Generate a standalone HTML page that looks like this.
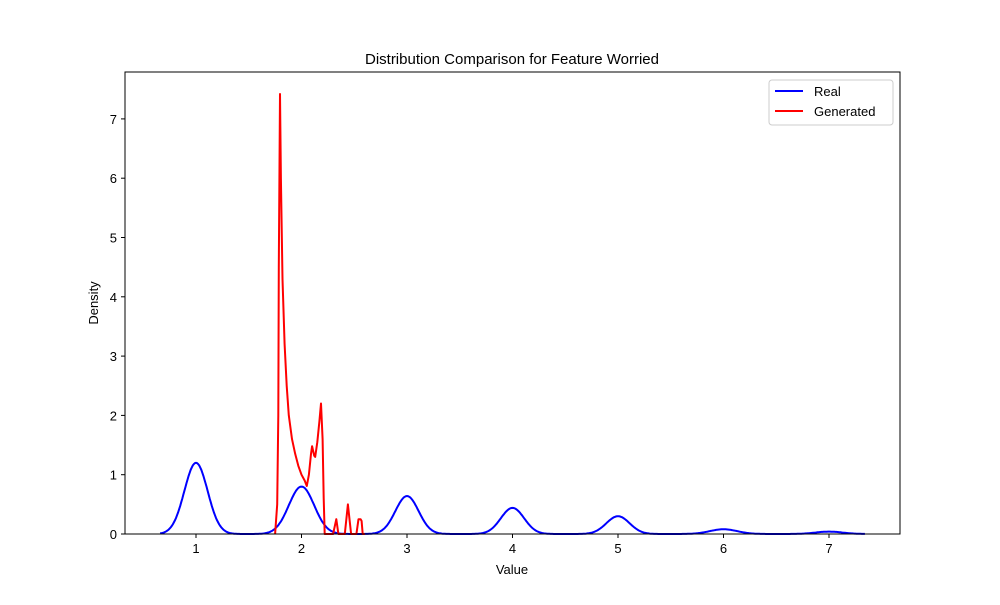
<!DOCTYPE html>
<html><head><meta charset="utf-8"><style>
body{margin:0;background:#fff;font-family:"Liberation Sans","DejaVu Sans",sans-serif;}
</style></head><body>
<svg id="chart" width="1000" height="600" xmlns="http://www.w3.org/2000/svg" font-family="Liberation Sans, DejaVu Sans, sans-serif">
<rect width="1000" height="600" fill="#fff"/>
<text x="512" y="64" text-anchor="middle" font-size="15">Distribution Comparison for Feature Worried</text>
<g id="plot"></g>
<rect x="125" y="72" width="775" height="462" fill="none" stroke="#000" stroke-width="1"/>
<text x="512" y="574" text-anchor="middle" font-size="13">Value</text>
<text transform="translate(98,303) rotate(-90)" text-anchor="middle" font-size="13">Density</text>
<g>
<rect x="769" y="80" width="124" height="45" rx="3" fill="#fff" stroke="#ccc"/>
<line x1="775" y1="91" x2="803" y2="91" stroke="#0000ff" stroke-width="2"/>
<text x="814" y="96" font-size="13">Real</text>
<line x1="775" y1="111" x2="803" y2="111" stroke="#ff0000" stroke-width="2"/>
<text x="814" y="116" font-size="13">Generated</text>
</g>
</svg>
<script>
const xTicks=[1,2,3,4,5,6,7];
const yTicks=[0,1,2,3,4,5,6,7];
const realCenters=[1,2,3,4,5,6,7];
const realHeights=[1.2,0.8,0.64,0.44,0.3,0.08,0.04];
const realWidths=[0.11,0.12,0.11,0.11,0.11,0.13,0.13];
const genX=[1.75,1.77,1.78,1.785,1.796,1.805,1.82,1.84,1.86,1.88,1.91,1.94,1.97,2.0,2.03,2.05,2.07,2.09,2.1,2.12,2.13,2.15,2.17,2.185,2.2,2.21,2.22,2.3,2.33,2.35,2.41,2.44,2.47,2.52,2.54,2.56,2.57,2.58,2.6];
const genY=[0,0.5,2.0,4.5,7.42,6.0,4.3,3.2,2.5,2.0,1.6,1.35,1.15,1.0,0.9,0.81,1.0,1.35,1.48,1.32,1.3,1.55,1.9,2.2,1.6,0.6,0,0,0.25,0,0,0.5,0,0,0.25,0.25,0.22,0,0];
const X=v=>90.5+(v)*105.5, Y=v=>534-v*59.3;
const plot=document.getElementById('plot');
const NS='http://www.w3.org/2000/svg';
function mk(t,a){const e=document.createElementNS(NS,t);for(const k in a)e.setAttribute(k,a[k]);plot.appendChild(e);return e;}
xTicks.forEach(t=>{
 const l=mk('line',{x1:X(t),x2:X(t),y1:534,y2:538,stroke:'#000'});
 
 
 const s=mk('text',{x:X(t),y:553,'text-anchor':'middle','font-size':13});s.textContent=t;
 
 
});
yTicks.forEach(t=>{
 const l=mk('line',{x1:121,x2:125,y1:Y(t),y2:Y(t),stroke:'#000'});
 
 
 const s=mk('text',{x:117,y:Y(t)+5,'text-anchor':'end','font-size':13});s.textContent=t;
 
 
});
let d='';
for(let v=0.66;v<=7.34;v+=0.01){
 let y=0;realCenters.forEach((c,i)=>{y+=realHeights[i]*Math.exp(-0.5*((v-c)/realWidths[i])**2);});
 d+=(d?'L':'M')+X(v).toFixed(1)+','+Y(y).toFixed(1);
}
const rp=mk('path',{d:d,fill:'none',stroke:'#0000ff','stroke-width':2});


let g='';genX.forEach((v,i)=>{g+=(i?'L':'M')+X(v).toFixed(1)+','+Y(genY[i]).toFixed(1);});
const gp=mk('path',{d:g,fill:'none',stroke:'#ff0000','stroke-width':2,'stroke-linejoin':'round'});


</script>
</body></html>
